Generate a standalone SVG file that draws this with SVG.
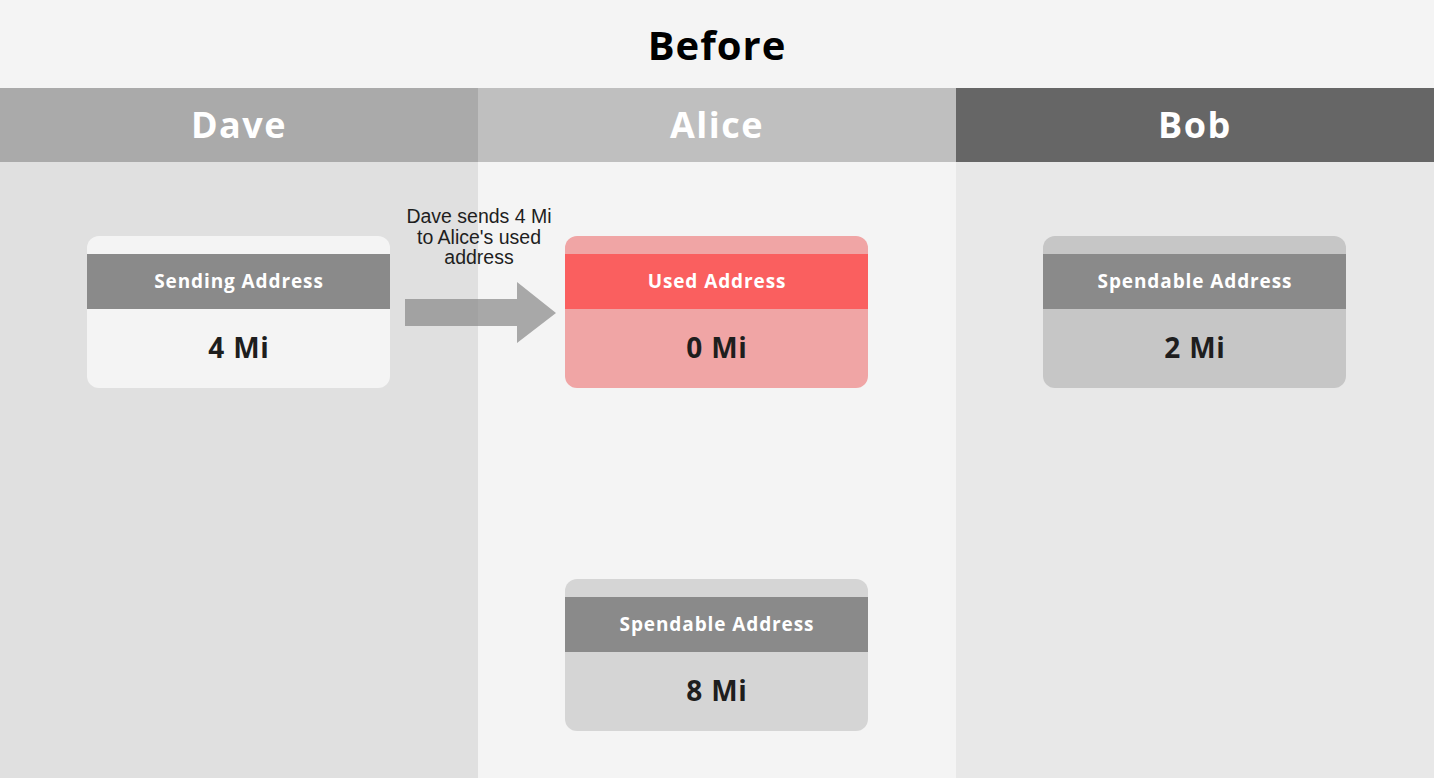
<svg xmlns="http://www.w3.org/2000/svg" width="1434" height="778" viewBox="0 0 1434 778">
<style>
.lane{font-family:"Open Sans","DejaVu Sans",sans-serif;font-weight:bold;font-size:36px;fill:#fff;text-anchor:middle;letter-spacing:1.5px}
.hdr{font-family:"Open Sans","DejaVu Sans",sans-serif;font-weight:bold;font-size:19px;fill:#fff;text-anchor:middle;letter-spacing:0.9px}
.val{font-family:"Open Sans","DejaVu Sans",sans-serif;font-weight:bold;font-size:28px;fill:#1e1e1e;text-anchor:middle;letter-spacing:0.8px}
.lbl{font-family:"Liberation Sans",Arial,sans-serif;font-size:19.5px;fill:#1e1e1e;text-anchor:middle}
</style>
<rect x="0" y="0" width="1434" height="778" fill="#f4f4f4"/>
<text x="717" y="60" font-family="'Open Sans','DejaVu Sans',sans-serif" font-weight="bold" font-size="40" fill="#000" text-anchor="middle" letter-spacing="1">Before</text>
<g id="lane-dave">
<rect x="0" y="162" width="478" height="616" fill="#e0e0e0"/>
<rect x="0" y="88" width="478" height="74" fill="#aaaaaa"/>
<text class="lane" x="239" y="138">Dave</text>
</g>
<g id="lane-alice">
<rect x="478" y="162" width="478" height="616" fill="#f4f4f4"/>
<rect x="478" y="88" width="478" height="74" fill="#bfbfbf"/>
<text class="lane" x="717" y="138">Alice</text>
</g>
<g id="lane-bob">
<rect x="956" y="162" width="478" height="616" fill="#e8e8e8"/>
<rect x="956" y="88" width="478" height="74" fill="#666666"/>
<text class="lane" x="1195" y="138">Bob</text>
</g>
<g id="dave-sending">
<rect x="87" y="236" width="303" height="152" rx="12" fill="#f4f4f4"/>
<rect x="87" y="254" width="303" height="55" fill="#8a8a8a"/>
<text class="hdr" x="239" y="288">Sending Address</text>
<text class="val" x="239" y="358">4 Mi</text>
</g>
<g id="alice-used">
<rect x="565" y="236" width="303" height="152" rx="12" fill="#f0a5a5"/>
<rect x="565" y="254" width="303" height="55" fill="#fa5f5f"/>
<text class="hdr" x="717" y="288">Used Address</text>
<text class="val" x="717" y="358">0 Mi</text>
</g>
<g id="bob-spendable">
<rect x="1043" y="236" width="303" height="152" rx="12" fill="#c6c6c6"/>
<rect x="1043" y="254" width="303" height="55" fill="#8a8a8a"/>
<text class="hdr" x="1195" y="288">Spendable Address</text>
<text class="val" x="1195" y="358">2 Mi</text>
</g>
<g id="alice-spendable">
<rect x="565" y="579" width="303" height="152" rx="12" fill="#d5d5d5"/>
<rect x="565" y="597" width="303" height="55" fill="#8a8a8a"/>
<text class="hdr" x="717" y="631">Spendable Address</text>
<text class="val" x="717" y="701">8 Mi</text>
</g>
<g id="connectors">
<path d="M405 299 H517 V282 L556 313 L517 343 V326 H405 Z" fill="#888888" fill-opacity="0.7"/>
<text class="lbl" x="479" y="223">Dave sends 4 Mi</text>
<text class="lbl" x="479" y="244">to Alice's used</text>
<text class="lbl" x="479" y="264">address</text>
</g>
</svg>
